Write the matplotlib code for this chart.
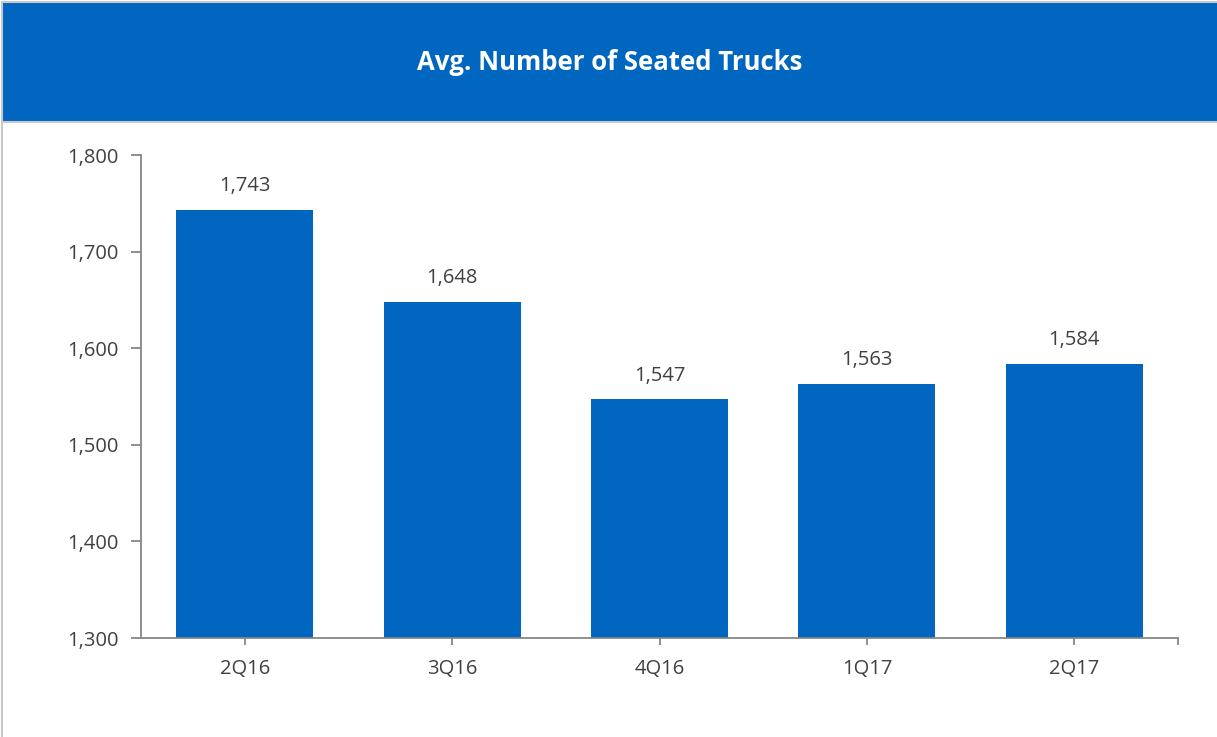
import matplotlib
matplotlib.use("Agg")
import matplotlib.pyplot as plt
from matplotlib.patches import Rectangle
from matplotlib.lines import Line2D

categories = ["2Q16", "3Q16", "4Q16", "1Q17", "2Q17"]
values = [1743, 1648, 1547, 1563, 1584]
yticks = [1300, 1400, 1500, 1600, 1700, 1800]
title = "Avg. Number of Seated Trucks"

plt.rcParams['font.family'] = ['Open Sans', 'DejaVu Sans']
blue = "#0066BF"
txt = "#404040"
axc = "#868686"

W, H = 1217, 737
fig = plt.figure(figsize=(W/100, H/100), dpi=100)

# header band
fig.patches.append(Rectangle((3/W, 1-121/H), 1-3/W, 118/H, transform=fig.transFigure,
                             facecolor=blue, edgecolor='none', zorder=0))
fig.lines.append(Line2D([3/W, 1], [1-122/H, 1-122/H], transform=fig.transFigure, color="#c8c8c8", lw=1.5))
fig.lines.append(Line2D([2/W, 2/W], [0, 1-2/H], transform=fig.transFigure, color="#c8c8c8", lw=1.5))
fig.lines.append(Line2D([2/W, 1], [1-2/H, 1-2/H], transform=fig.transFigure, color="#c8c8c8", lw=1.5))
fig.text(610/W, 1-62/H, title, color='white', fontsize=18.5, fontweight='bold',
         ha='center', va='center')

ax = fig.add_axes([141/W, 1-638/H, (1178-141)/W, (638-155)/H])
x = list(range(len(categories)))
bars = ax.bar(x, values, width=0.66, color=blue, zorder=2)
ax.set_xlim(-0.5, len(categories)-0.5)
ax.set_ylim(1300, 1800)
ax.set_yticks(yticks)
ax.set_yticklabels([f"{v:,}" for v in yticks])
ax.set_xticks(x + [len(categories)-0.5])
ax.set_xticklabels(categories + [""])
for s in ['top', 'right']:
    ax.spines[s].set_visible(False)
for s in ['left', 'bottom']:
    ax.spines[s].set_color(axc)
    ax.spines[s].set_linewidth(1.3)
ax.tick_params(axis='y', length=7, width=1.3, color=axc, labelsize=14.5, labelcolor=txt, pad=9)
ax.tick_params(axis='x', length=5, width=1.3, color=axc, labelsize=14.5, labelcolor=txt, pad=10)
for xi, v in zip(x, values):
    ax.annotate(f"{v:,}", (xi, v), xytext=(0, 10), textcoords='offset points',
                ha='center', va='bottom', fontsize=14.5, color=txt)

fig.savefig("out.png", dpi=100)
